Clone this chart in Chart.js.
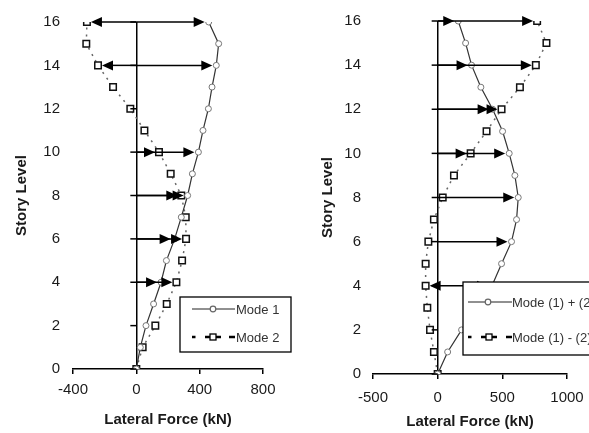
<!DOCTYPE html>
<html>
<head>
<meta charset="utf-8">
<script src="https://cdn.jsdelivr.net/npm/chart.js@4.4.1/dist/chart.umd.min.js"></script>
<style>
  html, body { margin: 0; padding: 0; overflow: hidden; background: #fff; }
  body { width: 589px; height: 433px; position: relative; }
  .box { position: absolute; top: 0; height: 433px; }
</style>
</head>
<body>
<div class="box" style="left:0;width:300px"><canvas id="chart-1"></canvas></div>
<div class="box" style="left:300px;width:340px"><canvas id="chart-2"></canvas></div>
<script>
// story levels 0..16
const levels = [0, 1, 2, 3, 4, 5, 6, 7, 8, 9, 10, 11, 12, 13, 14, 15, 16];

// left chart: lateral force per level (kN)
const mode1 = [0, 25, 61, 109, 156, 190, 242, 284, 324, 354, 392, 421, 455, 478, 505, 520, 457];
const mode2 = [0, 40, 120, 192, 253, 289, 314, 312, 284, 217, 143, 51, -38, -147, -242, -316, -312];

// right chart: combined modes (kN)
const modeSum = [0, 77, 185, 305, 420, 494, 571, 610, 623, 597, 553, 502, 425, 334, 262, 216, 159];
const modeDiff = [0, -29, -59, -80, -93, -93, -72, -29, 39, 126, 255, 378, 494, 636, 759, 841, 769];

// levels where force arrows are drawn
const arrowLevels1 = [16, 14, 10, 8, 6, 4];
const arrowLevels2 = [16, 14, 12, 10, 8, 6, 4];

// tick labels
const yTicks = [0, 2, 4, 6, 8, 10, 12, 14, 16];
const xTicks1 = [-400, 0, 400, 800];
const xTicks2 = [-500, 0, 500, 1000];

Chart.defaults.font.family = "'Liberation Sans', Arial, sans-serif";
Chart.defaults.color = "#1a1a1a";

const arrows = {
  id: "arrows",
  afterDatasetsDraw(chart, args, opts) {
    const ctx = chart.ctx;
    const x = chart.scales.x;
    const y = chart.scales.y;
    const x0 = x.getPixelForValue(0);
    ctx.save();
    ctx.strokeStyle = "#000";
    ctx.fillStyle = "#000";
    ctx.lineWidth = 1.5;
    // small ticks on the zero line
    yTicks.forEach(function(v) {
      const py = y.getPixelForValue(v);
      ctx.beginPath();
      ctx.moveTo(x0 - 6, py);
      ctx.lineTo(x0, py);
      ctx.stroke();
    });
    opts.levels.forEach(function(lv) {
      const py = y.getPixelForValue(lv);
      opts.series.forEach(function(s) {
        const px = x.getPixelForValue(s[levels.indexOf(lv)]);
        if (Math.abs(px - x0) < 10) return;
        const dir = px > x0 ? 1 : -1;
        const tip = px - dir * 4;
        ctx.beginPath();
        ctx.moveTo(x0, py);
        ctx.lineTo(tip - dir * 6, py);
        ctx.stroke();
        ctx.beginPath();
        ctx.moveTo(tip, py);
        ctx.lineTo(tip - dir * 11, py - 5);
        ctx.lineTo(tip - dir * 11, py + 5);
        ctx.closePath();
        ctx.fill();
      });
    });
    ctx.restore();
  }
};

const boxLegend = {
  id: "boxLegend",
  afterDraw(chart, args, opts) {
    const ctx = chart.ctx;
    const b = opts.box;
    ctx.save();
    ctx.fillStyle = "#fff";
    ctx.fillRect(b.x, b.y, b.w, b.h);
    ctx.strokeStyle = "#000";
    ctx.lineWidth = 1.3;
    ctx.strokeRect(b.x, b.y, b.w, b.h);

    // row 1: solid line + circle
    let r = opts.rows[0];
    ctx.lineWidth = 1.2;
    ctx.strokeStyle = "#222";
    ctx.beginPath();
    ctx.moveTo(r.x1, r.y);
    ctx.lineTo(r.x2, r.y);
    ctx.stroke();
    ctx.beginPath();
    ctx.arc(r.mx, r.y, 2.8, 0, Math.PI * 2);
    ctx.fillStyle = "#fff";
    ctx.fill();
    ctx.strokeStyle = "#666";
    ctx.stroke();
    ctx.fillStyle = "#333";
    ctx.font = "13px 'Liberation Sans', Arial, sans-serif";
    ctx.textBaseline = "middle";
    ctx.fillText(r.text, r.tx, r.y + 1);

    // row 2: dashed line + square
    r = opts.rows[1];
    ctx.strokeStyle = "#000";
    ctx.lineWidth = 2.5;
    [[r.x1, r.x1 + 3.5], [r.mx - 8, r.mx + 8], [r.x2 - 6, r.x2]].forEach(function(seg) {
      ctx.beginPath();
      ctx.moveTo(seg[0], r.y);
      ctx.lineTo(seg[1], r.y);
      ctx.stroke();
    });
    ctx.fillStyle = "#fff";
    ctx.fillRect(r.mx - 3, r.y - 3, 6, 6);
    ctx.lineWidth = 1.3;
    ctx.strokeRect(r.mx - 3, r.y - 3, 6, 6);
    ctx.fillStyle = "#333";
    ctx.fillText(r.text, r.tx, r.y + 1);
    ctx.restore();
  }
};

function series(label, values, dashed) {
  return {
    label: label,
    data: values.map(function(v, i) { return { x: v, y: levels[i] }; }),
    showLine: true,
    tension: 0,
    borderColor: dashed ? "#666" : "#333",
    borderWidth: dashed ? 1.5 : 1.2,
    borderDash: dashed ? [2, 5] : [],
    pointStyle: dashed ? "rect" : "circle",
    pointRadius: dashed ? 4.6 : 3,
    pointBorderWidth: dashed ? 1.5 : 1,
    pointBorderColor: dashed ? "#111" : "#777",
    pointBackgroundColor: "#fff"
  };
}

function makeChart(id, cfg) {
  return new Chart(document.getElementById(id).getContext("2d"), {
    type: "scatter",
    data: { datasets: cfg.datasets },
    options: {
      responsive: true,
      maintainAspectRatio: false,
      animation: false,
      layout: { padding: cfg.padding },
      plugins: {
        legend: { display: false },
        tooltip: { enabled: false },
        arrows: { levels: cfg.arrowLevels, series: cfg.arrowSeries },
        boxLegend: cfg.legend
      },
      scales: {
        x: {
          type: "linear",
          min: cfg.xTicks[0],
          max: cfg.xTicks[cfg.xTicks.length - 1],
          afterBuildTicks: function(s) { s.ticks = cfg.xTicks.map(function(v) { return { value: v }; }); },
          afterFit: function(s) { s.height = cfg.xHeight; },
          ticks: {
            font: { size: 15 },
            padding: cfg.xTickPad,
            callback: function(v) { return String(v); }
          },
          grid: {
            color: function(c) { return c.tick && c.tick.value === 0 ? "#000" : "rgba(0,0,0,0)"; },
            lineWidth: 1.5,
            tickColor: "#000",
            tickLength: 5
          },
          border: { display: true, color: "#000", width: 1.5 },
          title: {
            display: true,
            text: "Lateral Force (kN)",
            font: { size: 15, weight: "bold" },
            color: "#1a1a1a",
            padding: cfg.xTitlePad
          }
        },
        y: {
          type: "linear",
          min: 0,
          max: 16,
          afterBuildTicks: function(s) { s.ticks = yTicks.map(function(v) { return { value: v }; }); },
          afterFit: function(s) { s.width = cfg.yWidth; },
          ticks: { font: { size: 15 }, padding: cfg.yTickPad },
          grid: { display: false, drawTicks: false },
          border: { display: false },
          title: {
            display: true,
            text: "Story Level",
            font: { size: 15, weight: "bold" },
            color: "#1a1a1a",
            padding: cfg.yTitlePad
          }
        }
      }
    },
    plugins: [arrows, boxLegend]
  });
}

const myChart1 = makeChart("chart-1", {
  datasets: [series("Mode 1", mode1, false), series("Mode 2", mode2, true)],
  arrowLevels: arrowLevels1,
  arrowSeries: [mode1, mode2],
  xTicks: xTicks1,
  padding: { left: 9, right: 37, top: 19, bottom: 0 },
  xHeight: 64,
  yWidth: 64,
  xTickPad: 7,
  xTitlePad: { top: 12, bottom: 4 },
  yTickPad: 13,
  yTitlePad: { top: 4, bottom: 12 },
  legend: {
    box: { x: 180, y: 297, w: 111, h: 55 },
    rows: [
      { y: 309, x1: 192, x2: 235, mx: 213, tx: 236, text: "Mode 1" },
      { y: 337, x1: 192, x2: 235, mx: 213, tx: 236, text: "Mode 2" }
    ]
  }
});

const myChart2 = makeChart("chart-2", {
  datasets: [series("Mode (1) + (2)", modeSum, false), series("Mode (1) - (2)", modeDiff, true)],
  arrowLevels: arrowLevels2,
  arrowSeries: [modeSum, modeDiff],
  xTicks: xTicks2,
  padding: { left: 15, right: 73, top: 18, bottom: 0 },
  xHeight: 59,
  yWidth: 58,
  xTickPad: 10,
  xTitlePad: { top: 6, bottom: 2 },
  yTickPad: 12,
  yTitlePad: { top: 4, bottom: 7 },
  legend: {
    box: { x: 163, y: 282, w: 152, h: 73 },
    rows: [
      { y: 302, x1: 168, x2: 212, mx: 188, tx: 212, text: "Mode (1) + (2)" },
      { y: 337, x1: 168, x2: 212, mx: 189, tx: 212, text: "Mode (1) - (2)" }
    ]
  }
});
</script>
</body>
</html>
